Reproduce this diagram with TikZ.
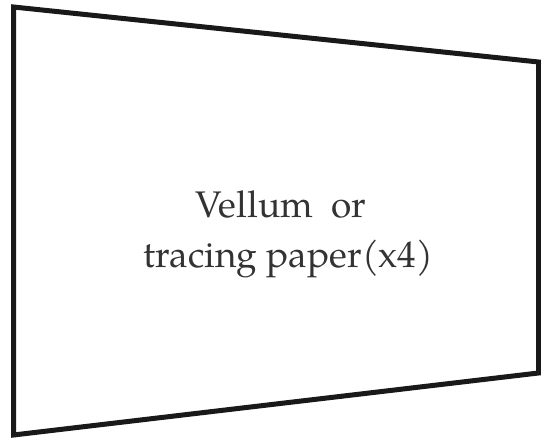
\documentclass[tikz,border=0pt]{standalone}
\usepackage{fontspec}
\setmainfont{TeX Gyre Pagella}
\tikzset{sheet/.style={draw=black!90, line width=5pt, line join=miter, fill=white},
  lbl/.style={font=\fontsize{37}{50}\selectfont, text=black!80, anchor=base}}
\begin{document}
\begin{tikzpicture}[x=1pt,y=1pt]
\useasboundingbox (0,0) rectangle (541,439);
\coordinate (tl) at (13.5,432);
\coordinate (tr) at (538.5,377);
\coordinate (br) at (538.5,66);
\coordinate (bl) at (13.5,4);
\draw[sheet] (tl) -- (tr) -- (br) -- (bl) -- cycle;
\node[lbl] (l1) at (281,221) {Vellum\ \ or};
\node[lbl] (l2) at (288.5,171) {tracing paper(x4)};
\end{tikzpicture}
\end{document}
